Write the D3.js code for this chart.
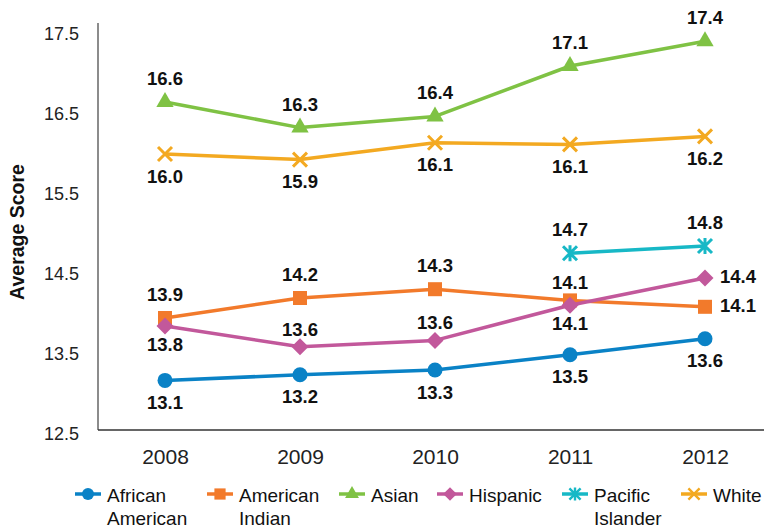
<!DOCTYPE html>
<html>
<head>
<meta charset="utf-8">
<script src="https://cdn.jsdelivr.net/npm/d3@7"></script>
<style>
  html, body { margin: 0; padding: 0; background: #fff; }
  svg { display: block; font-family: "Liberation Sans", Arial, Helvetica, sans-serif; }
</style>
</head>
<body>
<svg id="chart" width="764" height="527"></svg>
<script>
// ---- data ----
const years = ["2008", "2009", "2010", "2011", "2012"];
const yTicks = [12.5, 13.5, 14.5, 15.5, 16.5, 17.5];
const seriesNames = ["African American", "American Indian", "Asian", "Hispanic", "Pacific Islander", "White"];
const legendLines = [["African", "American"], ["American", "Indian"], ["Asian"], ["Hispanic"], ["Pacific", "Islander"], ["White"]];

const africanAmerican = [13.12, 13.19, 13.25, 13.44, 13.64];
const americanIndian  = [13.90, 14.15, 14.26, 14.12, 14.04];
const asian           = [16.60, 16.28, 16.42, 17.05, 17.36];
const hispanic        = [13.80, 13.54, 13.62, 14.06, 14.40];
const pacificIslander = [null, null, null, 14.71, 14.80];
const white           = [15.95, 15.88, 16.09, 16.07, 16.17];

const africanAmericanLabels = ["13.1", "13.2", "13.3", "13.5", "13.6"];
const americanIndianLabels  = ["13.9", "14.2", "14.3", "14.1", "14.1"];
const asianLabels           = ["16.6", "16.3", "16.4", "17.1", "17.4"];
const hispanicLabels        = ["13.8", "13.6", "13.6", "14.1", "14.4"];
const pacificIslanderLabels = [null, null, null, "14.7", "14.8"];
const whiteLabels           = ["16.0", "15.9", "16.1", "16.1", "16.2"];

// label placement codes: a = above, b = below, an = near above, bn = near below, r = right
const africanAmericanPlace = ["b", "b", "b", "b", "b"];
const americanIndianPlace  = ["a", "a", "a", "an", "r"];
const asianPlace           = ["a", "a", "a", "a", "a"];
const hispanicPlace        = ["bn", "an", "an", "bn", "r"];
const pacificIslanderPlace = [null, null, null, "a", "a"];
const whitePlace           = ["b", "b", "b", "b", "b"];

// ---- styles ----
const colors = ["#0a82c6", "#f27a2b", "#7fc244", "#c2589b", "#17b8c6", "#f3a921"];
const markers = ["circle", "square", "triangle", "diamond", "star", "x"];

const values = [africanAmerican, americanIndian, asian, hispanic, pacificIslander, white];
const labels = [africanAmericanLabels, americanIndianLabels, asianLabels, hispanicLabels, pacificIslanderLabels, whiteLabels];
const places = [africanAmericanPlace, americanIndianPlace, asianPlace, hispanicPlace, pacificIslanderPlace, whitePlace];

const svg = d3.select("#chart");

const x = d3.scalePoint().domain(years).range([97.5, 772.5]).padding(0.5);
const y = d3.scaleLinear().domain([12.5, 17.5]).range([430, 30]);
const xLeft = 98, xRight = 764;

// axes
const yAxis = svg.append("g")
  .attr("transform", `translate(${xLeft},0)`)
  .call(d3.axisLeft(y).tickValues(yTicks).tickFormat(d3.format(".1f")).tickSize(0).tickPadding(19));
yAxis.select(".domain").remove();
yAxis.selectAll("text").attr("font-size", 18).attr("fill", "#222").attr("dy", "0.5em")
  .attr("font-family", "'Liberation Sans', Arial, sans-serif");

const xAxis = svg.append("g")
  .attr("transform", `translate(0,${y(12.5)})`)
  .call(d3.axisBottom(x).tickSize(0).tickPadding(19.5));
xAxis.select(".domain").remove();
xAxis.selectAll("text").attr("font-size", 21).attr("fill", "#222")
  .attr("font-family", "'Liberation Sans', Arial, sans-serif");

svg.append("line")
  .attr("x1", xLeft).attr("x2", xLeft)
  .attr("y1", y(12.5)).attr("y2", y(17.5) - 7)
  .attr("stroke", "#666").attr("stroke-width", 1.5);
svg.append("line")
  .attr("x1", xLeft).attr("x2", xRight)
  .attr("y1", y(12.5)).attr("y2", y(12.5))
  .attr("stroke", "#333").attr("stroke-width", 1.5);

// y title
svg.append("text")
  .attr("transform", `translate(24,${(y(12.5) + y(17.5)) / 2 + 2}) rotate(-90)`)
  .attr("text-anchor", "middle")
  .attr("font-size", 19.5).attr("font-weight", "bold").attr("fill", "#111")
  .text("Average Score");

// marker drawing
function drawMarker(g, type, color, s) {
  if (type === "circle") {
    g.append("circle").attr("r", 7.5 * s).attr("fill", color);
  } else if (type === "square") {
    g.append("rect").attr("x", -7 * s).attr("y", -7 * s).attr("width", 14 * s).attr("height", 14 * s).attr("fill", color);
  } else if (type === "triangle") {
    g.append("path").attr("d", d3.symbol(d3.symbolTriangle, 130 * s * s)()).attr("fill", color);
  } else if (type === "diamond") {
    const r = 8.5 * s;
    g.append("path").attr("d", `M0,${-r}L${r},0L0,${r}L${-r},0Z`).attr("fill", color);
  } else if (type === "star") {
    const r = 7 * s;
    g.append("path").attr("d", `M${-r},${-r}L${r},${r}M${-r},${r}L${r},${-r}M0,${-r * 1.15}L0,${r * 1.15}`)
      .attr("stroke", color).attr("stroke-width", 3 * s).attr("fill", "none");
  } else if (type === "x") {
    const r = 7 * s;
    g.append("path").attr("d", `M${-r},${-r}L${r},${r}M${-r},${r}L${r},${-r}`)
      .attr("stroke", color).attr("stroke-width", 3 * s).attr("fill", "none");
  }
}

const line = d3.line()
  .defined(d => d.v != null)
  .x(d => x(d.year))
  .y(d => y(d.v));

const plot = svg.append("g");
seriesNames.forEach((name, i) => {
  const pts = years.map((yr, j) => ({ year: yr, v: values[i][j], label: labels[i][j], place: places[i][j] }));
  const g = plot.append("g").attr("class", "series");
  g.append("path")
    .datum(pts)
    .attr("d", line)
    .attr("fill", "none")
    .attr("stroke", colors[i])
    .attr("stroke-width", 3.5)
    .attr("stroke-linejoin", "round");
  pts.filter(d => d.v != null).forEach(d => {
    const m = g.append("g").attr("transform", `translate(${x(d.year)},${y(d.v)})`);
    drawMarker(m, markers[i], colors[i], 1);
  });
});

// labels on top
const labelG = svg.append("g");
seriesNames.forEach((name, i) => {
  years.forEach((yr, j) => {
    const v = values[i][j];
    if (v == null) return;
    const p = places[i][j];
    let dx = 0, dy = 0, anchor = "middle";
    if (p === "a") dy = -17;
    else if (p === "an") dy = -11;
    else if (p === "b") dy = 28.5;
    else if (p === "bn") dy = 24.5;
    else if (p === "r") { dx = 15; dy = 5; anchor = "start"; }
    labelG.append("text")
      .attr("x", x(yr) + dx)
      .attr("y", y(v) + dy)
      .attr("text-anchor", anchor)
      .attr("font-size", 18.5)
      .attr("font-weight", "bold")
      .attr("fill", "#111")
      .text(labels[i][j]);
  });
});

// legend
const legendX = [75, 207, 339, 437, 562, 681];
const legend = svg.append("g").attr("transform", "translate(0,494)");
seriesNames.forEach((name, i) => {
  const g = legend.append("g").attr("transform", `translate(${legendX[i]},0)`);
  g.append("line").attr("x1", 0).attr("x2", 26).attr("y1", 0).attr("y2", 0)
    .attr("stroke", colors[i]).attr("stroke-width", 3.5);
  const m = g.append("g").attr("transform", "translate(13,0)");
  drawMarker(m, markers[i], colors[i], 0.8);
  legendLines[i].forEach((t, k) => {
    g.append("text")
      .attr("x", 32)
      .attr("y", 7.5 + k * 23)
      .attr("font-size", 19)
      .attr("fill", "#111")
      .text(t);
  });
});
</script>
</body>
</html>
